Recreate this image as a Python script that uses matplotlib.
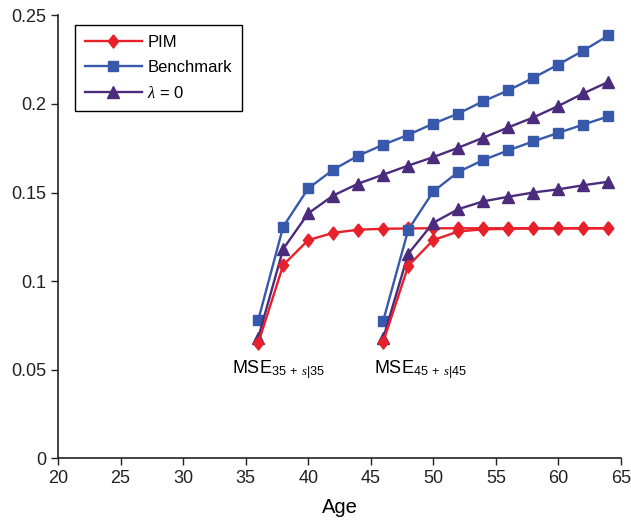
import numpy as np
import matplotlib
matplotlib.use('Agg')
import matplotlib.pyplot as plt
from matplotlib.ticker import FuncFormatter

plt.rcParams['font.family'] = ['Liberation Sans', 'DejaVu Sans']
plt.rcParams['mathtext.fontset'] = 'custom'
plt.rcParams['mathtext.rm'] = 'Liberation Sans'
plt.rcParams['mathtext.it'] = 'Liberation Serif:italic'

# cohort aged 35
ages35 = [36, 38, 40, 42, 44, 46, 48, 50, 52, 54, 56, 58, 60, 62, 64]
pim35 = [0.0648, 0.1090, 0.1231, 0.1272, 0.1290, 0.1295, 0.1297, 0.1298, 0.1298,
         0.1298, 0.1298, 0.1298, 0.1298, 0.1298, 0.1298]
bench35 = [0.0778, 0.1307, 0.1523, 0.1629, 0.1708, 0.1770, 0.1826, 0.1889, 0.1946,
           0.2016, 0.2077, 0.2148, 0.2223, 0.2302, 0.2387]
lam35 = [0.0678, 0.1181, 0.1382, 0.1483, 0.1550, 0.1601, 0.1652, 0.1700, 0.1753,
         0.1810, 0.1868, 0.1924, 0.1989, 0.2060, 0.2125]

# cohort aged 45
ages45 = [46, 48, 50, 52, 54, 56, 58, 60, 62, 64]
pim45 = [0.0657, 0.1086, 0.1231, 0.1280, 0.1292, 0.1295, 0.1297, 0.1297, 0.1298, 0.1298]
bench45 = [0.0776, 0.1290, 0.1506, 0.1616, 0.1684, 0.1738, 0.1789, 0.1837, 0.1884, 0.1930]
lam45 = [0.0678, 0.1154, 0.1329, 0.1406, 0.1450, 0.1476, 0.1500, 0.1518, 0.1541, 0.1561]

red = '#e8202a'
blue = '#3859ab'
purple = '#4b2b7c'
diamond = [(0, 1), (0.78, 0), (0, -1), (-0.78, 0), (0, 1)]

fig = plt.figure(figsize=(6.31, 5.2), dpi=100)
ax = fig.add_axes([0.092, 0.1192, 0.892, 0.851])

for ages, b, l, p in [(ages35, bench35, lam35, pim35), (ages45, bench45, lam45, pim45)]:
    hb, = ax.plot(ages, b, color=blue, lw=1.7, marker='s', ms=7, mec=blue)
    hl, = ax.plot(ages, l, color=purple, lw=1.7, marker='^', ms=9, mec=purple)
    hp, = ax.plot(ages, p, color=red, lw=1.7, marker=diamond, ms=9.5, mec=red)

ax.text(33.9, 0.048, r'MSE$_{35\;+\;s|35}$', ha='left', va='baseline', fontsize=13)
ax.text(45.25, 0.048, r'MSE$_{45\;+\;s|45}$', ha='left', va='baseline', fontsize=13)

ax.set_xlim(20, 65)
ax.set_ylim(0, 0.25)
ax.set_xticks([20, 25, 30, 35, 40, 45, 50, 55, 60, 65])
ax.set_yticks([0, 0.05, 0.1, 0.15, 0.2, 0.25])
ax.yaxis.set_major_formatter(FuncFormatter(lambda v, pos: '%g' % v))
ax.set_xlabel('Age', fontsize=14.5, labelpad=8)

for s in ['top', 'right']:
    ax.spines[s].set_visible(False)
for s in ['left', 'bottom']:
    ax.spines[s].set_linewidth(1.2)
    ax.spines[s].set_color('#222222')
ax.tick_params(direction='out', length=5, width=1, labelsize=13, colors='#222222')

leg = ax.legend([hp, hb, hl], ['PIM', 'Benchmark', r'$\lambda$ = 0'],
                loc='upper left', bbox_to_anchor=(0.030, 0.979), borderaxespad=0,
                fontsize=12, handlelength=3.4, handletextpad=0.35,
                labelspacing=0.6, borderpad=0.6,
                fancybox=False, framealpha=1, edgecolor='black')
leg.get_frame().set_linewidth(1.0)

fig.savefig('out.png', dpi=100)
